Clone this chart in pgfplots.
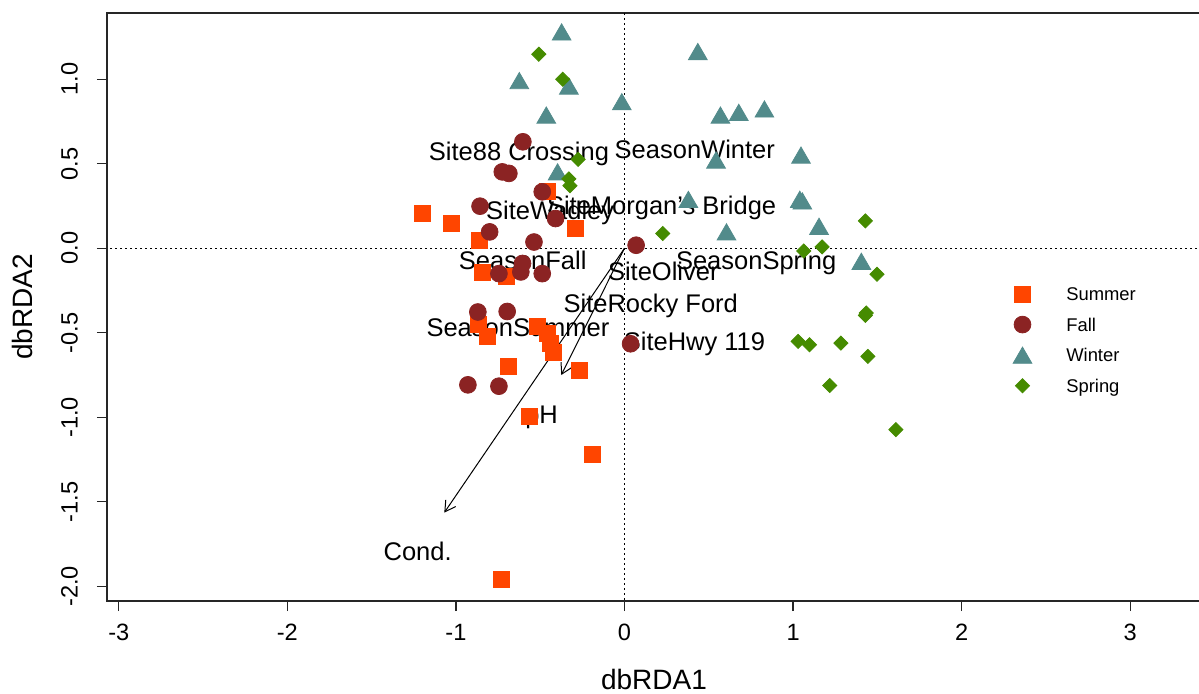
\documentclass[border=0pt]{standalone}
\usepackage{fontspec}
\setmainfont{Liberation Sans}
\usepackage{pgfplots}
\pgfplotsset{compat=1.18}
\usetikzlibrary{arrows.meta}
\definecolor{csummer}{RGB}{255,69,0}
\definecolor{cfall}{RGB}{139,35,35}
\definecolor{cwinter}{RGB}{82,139,139}
\definecolor{cspring}{RGB}{69,139,0}
\tikzset{lbl/.style={anchor=base, yshift=-4.56pt, font=\fontsize{12.75}{15}\selectfont, inner sep=0pt}}
\begin{document}
\begin{tikzpicture}
\begin{axis}[name=ax, scale only axis, width=547pt, height=294pt,
  xmin=-3.07, xmax=3.42, ymin=-2.087, ymax=1.392,
  axis line style={black!85, line width=0.7pt},
  xtick={-3,-2,-1,0,1,2,3}, xticklabels={-3,-2,-1,0,1,2,3},
  ytick={-2,-1.5,-1,-0.5,0,0.5,1}, yticklabels={-2.0,-1.5,-1.0,-0.5,0.0,0.5,1.0},
  tick align=outside, major tick length=5pt, tick style={black!85, line width=0.6pt},
  xtick pos=left, ytick pos=left,
  ticklabel style={font=\fontsize{11.8}{14}\selectfont},
  yticklabel style={rotate=90, anchor=south},
  xticklabel style={anchor=north},
  xticklabel shift=3pt, yticklabel shift=6pt,
  xlabel={dbRDA1}, ylabel={dbRDA2},
  label style={font=\fontsize{14}{16}\selectfont},
  xlabel style={at={([yshift=-39pt]axis description cs:0.5,0)}, anchor=center},
  ylabel style={at={([xshift=-42.5pt]axis description cs:0,0.5)}, anchor=center},
  legend cell align=left,
  legend style={draw=none, fill=none, inner sep=0pt, outer sep=0pt,
    at={(axis cs:2.240,-0.189)}, anchor=north west,
    font=\fontsize{9.2}{11}\selectfont,
    nodes={text height=7pt, text depth=2pt, inner ysep=3.16pt}},
  legend image code/.code={\draw[#1] plot coordinates {(10pt,0.8pt)}; \path (0pt,0pt) (29.7pt,0pt);},
]
\addplot[only marks, mark=square*, mark size=4pt, color=csummer] coordinates {
(-1.200,0.205) (-1.025,0.146) (-0.458,0.334) (-0.294,0.120) (-0.860,0.047) (-0.844,-0.145)
(-0.703,-0.168) (-0.868,-0.448) (-0.816,-0.523) (-0.518,-0.465) (-0.458,-0.502) (-0.439,-0.562)
(-0.421,-0.614) (-0.688,-0.700) (-0.265,-0.723) (-0.567,-0.996) (-0.188,-1.217) (-0.731,-1.958)};
\addlegendentry{Summer}
\addplot[only marks, mark=*, mark size=4.2pt, color=cfall] coordinates {
(-0.603,0.630) (-0.725,0.452) (-0.686,0.443) (-0.488,0.334) (-0.857,0.249) (-0.409,0.176)
(-0.800,0.097) (-0.537,0.037) (0.069,0.018) (-0.745,-0.150) (-0.615,-0.140) (-0.605,-0.090)
(-0.488,-0.150) (-0.870,-0.377) (-0.696,-0.374) (0.036,-0.565) (-0.929,-0.808) (-0.745,-0.816)};
\addlegendentry{Fall}
\addplot[only marks, mark=triangle*, mark size=5.4pt, color=cwinter, mark options={yshift=-1.35pt}] coordinates {
(-0.373,1.280) (-0.624,0.992) (-0.330,0.960) (-0.016,0.867) (-0.464,0.788) (-0.397,0.452)
(0.435,1.164) (0.569,0.788) (0.678,0.804) (0.830,0.824) (1.047,0.551) (0.543,0.522)
(0.379,0.289) (1.040,0.290) (1.055,0.280) (1.154,0.130) (0.605,0.097) (1.405,-0.077)};
\addlegendentry{Winter}
\addplot[only marks, mark=square*, mark size=2.5pt, color=cspring, mark options={rotate=45}] coordinates {
(-0.508,1.148) (-0.367,1.000) (-0.275,0.526) (-0.330,0.410) (-0.324,0.370) (0.227,0.087)
(1.429,0.162) (1.063,-0.016) (1.172,0.008) (1.498,-0.154) (1.434,-0.383) (1.429,-0.397)
(1.030,-0.551) (1.097,-0.571) (1.284,-0.561) (1.444,-0.640) (1.217,-0.812) (1.610,-1.073)};
\addlegendentry{Spring}
\addplot[black, line width=0.5pt, dash pattern=on 1pt off 1.5pt, forget plot] coordinates {(0,-2.2) (0,1.5)};
\addplot[black, line width=0.5pt, dash pattern=on 1pt off 1.5pt, forget plot] coordinates {(-3.2,0) (3.5,0)};
\addplot[black, line width=0.5pt, -{Straight Barb[length=5.2pt, width=6pt]}, forget plot] coordinates {(0,0) (-1.069,-1.564)};
\addplot[black, line width=0.5pt, -{Straight Barb[length=5.2pt, width=6pt]}, forget plot] coordinates {(0,0) (-0.375,-0.750)};
\node[lbl] at (axis cs:-0.626,0.572) {Site88 Crossing};
\node[lbl] at (axis cs:0.417,0.586) {SeasonWinter};
\node[lbl] at (axis cs:-0.441,0.226) {SiteWadley};
\node[lbl] at (axis cs:0.220,0.252) {SiteMorgan's Bridge};
\node[lbl] at (axis cs:-0.604,-0.069) {SeasonFall};
\node[lbl] at (axis cs:0.230,-0.138) {SiteOliver};
\node[lbl] at (axis cs:0.781,-0.073) {SeasonSpring};
\node[lbl] at (axis cs:0.156,-0.325) {SiteRocky Ford};
\node[lbl] at (axis cs:-0.632,-0.469) {SeasonSummer};
\node[lbl] at (axis cs:0.415,-0.553) {SiteHwy 119};
\node[lbl] at (axis cs:-0.492,-0.980) {pH};
\node[lbl] at (axis cs:-1.227,-1.795) {Cond.};
\end{axis}
\pgfresetboundingbox
\path[use as bounding box] ([shift={(-53.5pt,-46pt)}]ax.south west) rectangle ([shift={(-1pt,6.5pt)}]ax.north east);
\end{tikzpicture}
\end{document}
